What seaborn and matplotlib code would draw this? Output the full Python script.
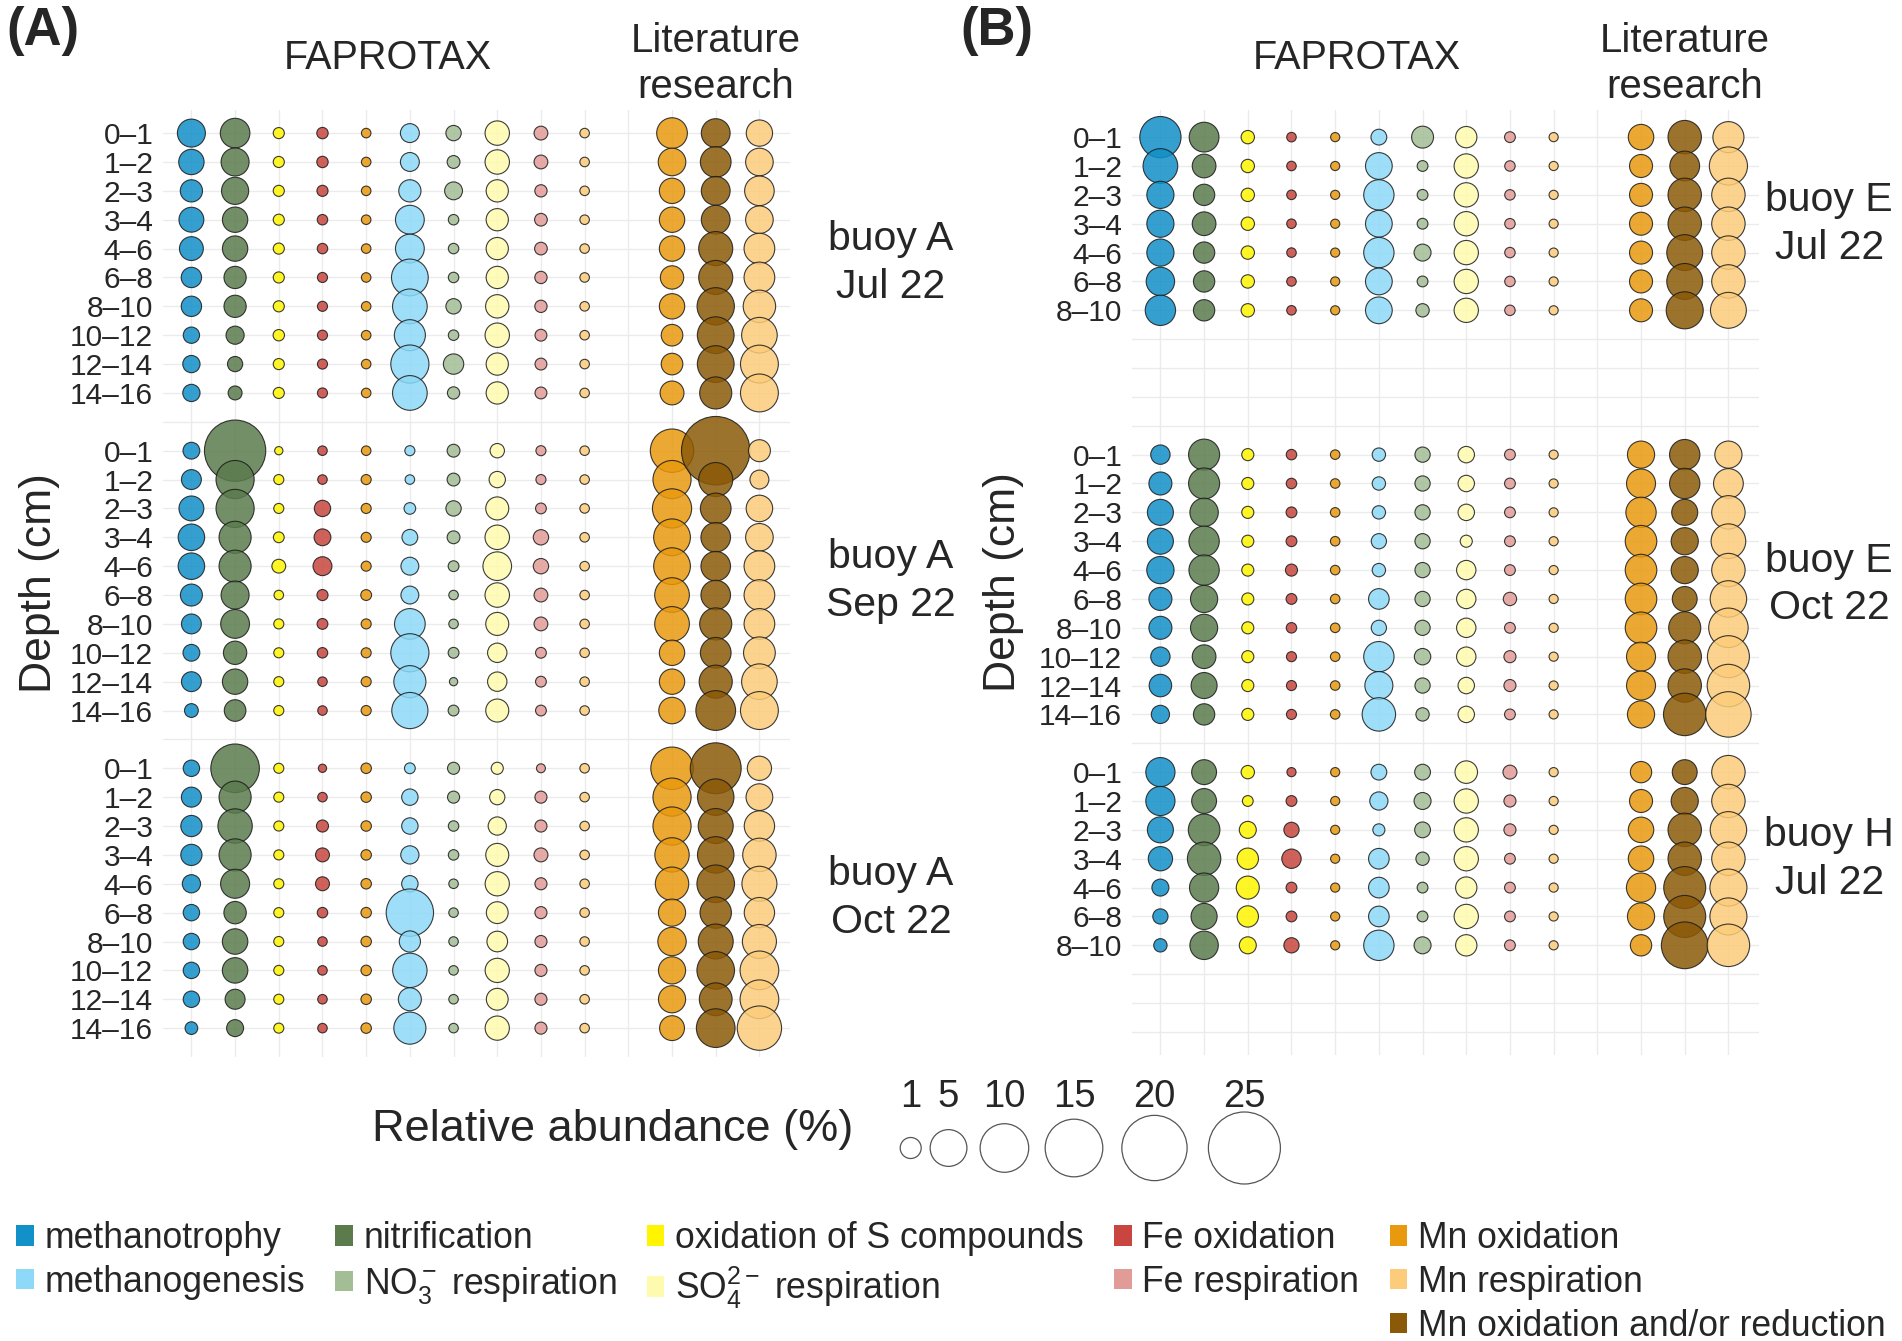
import numpy as np
import pandas as pd
import seaborn as sns
import matplotlib.pyplot as plt
from matplotlib.patches import Patch
from matplotlib.transforms import blended_transform_factory

sns.set_theme(style="white")
plt.rcParams["font.family"] = ["Liberation Sans", "DejaVu Sans"]
plt.rcParams["mathtext.fontset"] = "custom"
plt.rcParams["mathtext.rm"] = "Liberation Sans"
plt.rcParams["mathtext.it"] = "Liberation Sans:italic"
plt.rcParams["mathtext.bf"] = "Liberation Sans:bold"

# depth layers (cm)
depths = ["0–1", "1–2", "2–3", "3–4", "4–6", "6–8", "8–10", "10–12", "12–14", "14–16"]

# column order on the x axis (slot 10 stays empty between FAPROTAX and literature)
columns = ["methanotrophy", "nitrification", "S_ox", "Fe_ox", "Mn_ox_F",
           "methanogenesis", "NO3_resp", "SO4_resp", "Fe_resp", "Mn_resp_F",
           "lit_Mn_ox", "lit_Mn_oxred", "lit_Mn_resp"]
col_pos = [0, 1, 2, 3, 4, 5, 6, 7, 8, 9, 11, 12, 13]
col_func = {"methanotrophy": "methanotrophy", "nitrification": "nitrification",
            "S_ox": "oxidation of S compounds", "Fe_ox": "Fe oxidation",
            "Mn_ox_F": "Mn oxidation", "methanogenesis": "methanogenesis",
            "NO3_resp": "NO3 respiration", "SO4_resp": "SO4 respiration",
            "Fe_resp": "Fe respiration", "Mn_resp_F": "Mn respiration",
            "lit_Mn_ox": "Mn oxidation", "lit_Mn_oxred": "Mn oxidation and/or reduction",
            "lit_Mn_resp": "Mn respiration"}

palette = {"methanotrophy": "#1290C8", "methanogenesis": "#8DD9F7",
           "nitrification": "#5B7B4D", "NO3 respiration": "#A3BD95",
           "oxidation of S compounds": "#FFF500", "SO4 respiration": "#FFFBAE",
           "Fe oxidation": "#C8463F", "Fe respiration": "#E29C98",
           "Mn oxidation": "#E8990E", "Mn respiration": "#FCCC7A",
           "Mn oxidation and/or reduction": "#8B5A08"}

# relative abundance (%) per facet
buoyA_jul = {
    "methanotrophy": [2.4, 1.8, 1.2, 1.7, 1.5, 0.9, 0.9, 0.4, 0.5, 0.5],
    "nitrification": [2.8, 2.4, 2.2, 1.8, 1.8, 1.2, 1.2, 0.6, 0.3, 0.2],
    "S_ox": [0.05, 0.05, 0.05, 0.05, 0.05, 0.05, 0.05, 0.06, 0.05, 0.05],
    "Fe_ox": [0.06, 0.06, 0.05, 0.03, 0.03, 0.02, 0.02, 0.02, 0.02, 0.02],
    "Mn_ox_F": [0.01] * 10,
    "methanogenesis": [0.7, 0.7, 1.2, 2.6, 2.6, 5.0, 4.3, 3.2, 5.5, 4.3],
    "NO3_resp": [0.31, 0.13, 0.57, 0.03, 0.03, 0.03, 0.31, 0.03, 0.9, 0.1],
    "SO4_resp": [1.6, 1.6, 1.2, 1.2, 1.2, 1.2, 1.4, 1.6, 1.2, 1.2],
    "Fe_resp": [0.19, 0.19, 0.1, 0.12, 0.12, 0.1, 0.1, 0.08, 0.08, 0.08],
    "Mn_resp_F": [0.01] * 10,
    "lit_Mn_ox": [3.1, 2.3, 1.8, 1.8, 1.8, 1.4, 1.8, 1.1, 1.1, 1.5],
    "lit_Mn_oxred": [2.6, 3.1, 2.6, 2.6, 4.1, 4.1, 5.2, 5.0, 5.0, 3.5],
    "lit_Mn_resp": [2.0, 2.3, 2.8, 2.3, 3.1, 3.1, 3.6, 4.6, 5.4, 5.4],
}
buoyA_sep = {
    "methanotrophy": [0.45, 0.83, 1.7, 2.05, 2.05, 1.16, 0.83, 0.45, 0.83, 0.19],
    "nitrification": [17.3, 5.5, 5.5, 3.5, 3.5, 2.4, 2.6, 1.4, 1.8, 1.1],
    "S_ox": [0.0, 0.02, 0.02, 0.04, 0.19, 0.01, 0.02, 0.02, 0.02, 0.02],
    "Fe_ox": [0.01, 0.01, 0.4, 0.45, 0.7, 0.05, 0.04, 0.03, 0.01, 0.01],
    "Mn_ox_F": [0.01, 0.02, 0.02, 0.02, 0.02, 0.04, 0.02, 0.02, 0.02, 0.02],
    "methanogenesis": [0.02, 0.01, 0.07, 0.35, 0.57, 0.57, 3.1, 5.5, 3.5, 4.8],
    "NO3_resp": [0.13, 0.13, 0.31, 0.13, 0.04, 0.01, 0.01, 0.04, 0.0, 0.04],
    "SO4_resp": [0.23, 0.4, 1.34, 1.62, 2.55, 1.62, 1.34, 0.76, 0.76, 1.34],
    "Fe_resp": [0.02, 0.02, 0.04, 0.31, 0.31, 0.19, 0.19, 0.04, 0.04, 0.04],
    "Mn_resp_F": [0.01] * 10,
    "lit_Mn_ox": [7.6, 5.5, 5.9, 5.0, 5.0, 4.3, 4.3, 1.8, 1.8, 2.05],
    "lit_Mn_oxred": [22.3, 4.1, 3.1, 2.8, 2.8, 2.8, 3.5, 3.1, 3.8, 6.1],
    "lit_Mn_resp": [1.16, 0.7, 2.05, 2.3, 3.1, 3.1, 3.1, 3.4, 4.6, 5.4],
}
buoyA_oct = {
    "methanotrophy": [0.41, 0.85, 1.03, 1.03, 0.61, 0.41, 0.41, 0.41, 0.41, 0.12],
    "nitrification": [10.0, 3.5, 4.2, 3.5, 2.65, 1.23, 1.83, 1.83, 0.85, 0.47],
    "S_ox": [0.02] * 10,
    "Fe_ox": [0.0, 0.01, 0.09, 0.2, 0.2, 0.03, 0.01, 0.01, 0.01, 0.01],
    "Mn_ox_F": [0.03] * 10,
    "methanogenesis": [0.04, 0.41, 0.41, 0.61, 0.41, 9.4, 1.03, 4.2, 1.34, 3.5],
    "NO3_resp": [0.09, 0.09, 0.03, 0.03, 0.01, 0.01, 0.01, 0.01, 0.01, 0.01],
    "SO4_resp": [0.09, 0.3, 0.61, 1.34, 1.57, 1.13, 0.94, 1.57, 1.13, 1.57],
    "Fe_resp": [0.003, 0.09, 0.09, 0.2, 0.09, 0.09, 0.09, 0.09, 0.09, 0.09],
    "Mn_resp_F": [0.01] * 10,
    "lit_Mn_ox": [7.2, 5.5, 5.5, 4.2, 3.9, 2.2, 2.5, 2.2, 2.2, 1.7],
    "lit_Mn_oxred": [11.2, 4.9, 4.4, 4.9, 5.3, 3.3, 4.4, 5.3, 3.7, 5.7],
    "lit_Mn_resp": [1.57, 2.1, 3.0, 3.9, 4.4, 3.0, 4.1, 5.7, 5.7, 8.0],
}
buoyE_jul = {
    "methanotrophy": [6.7, 4.3, 2.2, 2.2, 2.2, 2.5, 3.0],
    "nitrification": [2.85, 1.47, 1.05, 1.47, 1.05, 1.05, 1.05],
    "S_ox": [0.16] * 7,
    "Fe_ox": [0.01] * 7,
    "Mn_ox_F": [0.005] * 7,
    "methanogenesis": [0.35, 2.1, 3.0, 2.1, 3.0, 2.1, 2.1],
    "NO3_resp": [1.15, 0.04, 0.04, 0.04, 0.47, 0.04, 0.16],
    "SO4_resp": [1.05, 1.58, 1.58, 1.58, 1.58, 1.58, 1.58],
    "Fe_resp": [0.04, 0.03, 0.03, 0.03, 0.03, 0.03, 0.03],
    "Mn_resp_F": [0.005] * 7,
    "lit_Mn_ox": [1.83, 1.34, 1.34, 1.34, 1.34, 1.34, 1.34],
    "lit_Mn_oxred": [3.9, 2.85, 3.9, 3.9, 4.7, 4.7, 5.1],
    "lit_Mn_resp": [3.2, 5.5, 3.9, 3.9, 3.9, 3.9, 4.7],
}
buoyE_oct = {
    "methanotrophy": [0.76, 1.34, 1.94, 1.94, 2.23, 1.34, 1.34, 0.76, 1.25, 0.61],
    "nitrification": [3.2, 3.2, 2.5, 3.0, 3.0, 2.2, 2.2, 1.47, 1.94, 1.05],
    "S_ox": [0.09] * 10,
    "Fe_ox": [0.03, 0.03, 0.04, 0.04, 0.09, 0.04, 0.03, 0.02, 0.02, 0.02],
    "Mn_ox_F": [0.01] * 10,
    "methanogenesis": [0.16, 0.16, 0.16, 0.3, 0.16, 0.94, 0.3, 3.0, 2.4, 3.9],
    "NO3_resp": [0.3, 0.3, 0.3, 0.3, 0.3, 0.3, 0.3, 0.41, 0.3, 0.16],
    "SO4_resp": [0.41, 0.41, 0.41, 0.09, 0.76, 0.76, 0.76, 0.76, 0.41, 0.41],
    "Fe_resp": [0.04, 0.04, 0.04, 0.04, 0.04, 0.16, 0.04, 0.09, 0.09, 0.04],
    "Mn_resp_F": [0.005] * 10,
    "lit_Mn_ox": [2.2, 2.65, 3.0, 3.35, 3.35, 3.35, 3.35, 2.65, 2.65, 2.2],
    "lit_Mn_oxred": [3.0, 3.0, 1.94, 2.2, 2.2, 1.7, 3.5, 3.9, 3.9, 7.2],
    "lit_Mn_resp": [2.2, 2.85, 3.9, 4.3, 3.9, 4.9, 6.0, 7.0, 7.2, 8.5],
}
buoyH_jul = {
    "methanotrophy": [2.7, 2.7, 1.94, 1.58, 0.47, 0.3, 0.16],
    "nitrification": [1.7, 1.7, 3.35, 3.9, 2.7, 1.96, 2.5],
    "S_ox": [0.16, 0.04, 0.47, 1.05, 1.34, 1.05, 0.47],
    "Fe_ox": [0.005, 0.04, 0.3, 0.76, 0.04, 0.04, 0.3],
    "Mn_ox_F": [0.005] * 7,
    "methanogenesis": [0.35, 0.61, 0.09, 0.94, 0.94, 0.94, 3.0],
    "NO3_resp": [0.35, 0.47, 0.35, 0.16, 0.04, 0.04, 0.47],
    "SO4_resp": [1.25, 1.58, 1.58, 1.58, 1.05, 1.58, 1.05],
    "Fe_resp": [0.2, 0.09, 0.09, 0.04, 0.04, 0.04, 0.04],
    "Mn_resp_F": [0.005] * 7,
    "lit_Mn_ox": [1.05, 1.34, 1.83, 1.83, 2.7, 2.2, 1.05],
    "lit_Mn_oxred": [1.7, 2.2, 3.9, 3.9, 7.0, 7.0, 9.1],
    "lit_Mn_resp": [3.9, 3.9, 4.9, 3.9, 5.1, 5.1, 7.2],
}

panels = {
    "A": [("buoy A", "Jul 22", buoyA_jul), ("buoy A", "Sep 22", buoyA_sep), ("buoy A", "Oct 22", buoyA_oct)],
    "B": [("buoy E", "Jul 22", buoyE_jul), ("buoy E", "Oct 22", buoyE_oct), ("buoy H", "Jul 22", buoyH_jul)],
}
size_breaks = [1, 5, 10, 15, 20, 25]

# long table, each facet takes 11 row slots on the y axis
rows = []
for panel, facets in panels.items():
    for fi, (buoy, month, values) in enumerate(facets):
        for col, xpos in zip(columns, col_pos):
            for ri, v in enumerate(values[col]):
                rows.append({"panel": panel, "slot": fi * 11 + ri, "depth": depths[ri],
                             "x": xpos, "func": col_func[col], "abund": v})
df = pd.DataFrame(rows)


def diam_px(v):
    # ggplot-like area palette: diameter grows with sqrt of abundance
    return 8.25 + 12.75 * np.sqrt(v)


def area_pt2(v):
    return (diam_px(v) * 0.72) ** 2


size_lut = {v: area_pt2(v) for v in df["abund"].unique()}

W, H = 1902, 1341
fig = plt.figure(figsize=(W / 100, H / 100), dpi=100)
axA = fig.add_axes([163 / W, 1 - 1057 / H, 627 / W, 947 / H])
axB = fig.add_axes([1132 / W, 1 - 1055 / H, 627 / W, 945 / H])

settings = {
    "A": dict(ax=axA, ylim=(32.0, -0.8), lab_x=-0.165, strip_x=1.161, letter_x=6),
    "B": dict(ax=axB, ylim=(31.8, -0.94), lab_x=-0.172, strip_x=1.112, letter_x=960),
}

for panel, facets in panels.items():
    st = settings[panel]
    ax = st["ax"]
    d = df[df["panel"] == panel]
    sns.scatterplot(data=d, x="x", y="slot", hue="func", palette=palette,
                    size="abund", sizes=size_lut, legend=False, alpha=0.85,
                    edgecolor="#1a1a1a", linewidth=0.8, ax=ax, zorder=3)
    ax.set_xlim(-0.65, 13.7)
    ax.set_ylim(*st["ylim"])
    ax.set_xticks(range(14))
    ax.set_yticks(range(32))
    ticklabels = [""] * 32
    for fi, (buoy, month, values) in enumerate(facets):
        n = len(values["methanotrophy"])
        for ri in range(n):
            ticklabels[fi * 11 + ri] = depths[ri]
    ax.set_yticklabels(ticklabels)
    ax.tick_params(axis="x", labelbottom=False, length=0)
    ax.tick_params(axis="y", length=0, labelsize=21.5, pad=7)
    ax.grid(True, color="#EBEBEB", linewidth=1.0)
    ax.set_axisbelow(True)
    for s in ax.spines.values():
        s.set_visible(False)
    ax.set_xlabel("")
    ax.set_ylabel("Depth (cm)", fontsize=32)
    ax.yaxis.set_label_coords(st["lab_x"], 0.5)

    strip_tr = blended_transform_factory(ax.transAxes, ax.transData)
    for fi, (buoy, month, values) in enumerate(facets):
        n = len(values["methanotrophy"])
        ax.text(st["strip_x"], fi * 11 + (n - 1) / 2, f"{buoy}\n{month}", transform=strip_tr,
                ha="center", va="center", fontsize=29.5, linespacing=1.33)

    head_tr = blended_transform_factory(ax.transData, fig.transFigure)
    ax.text(4.5, 1 - 58 / H, "FAPROTAX", transform=head_tr, ha="center", va="center", fontsize=28.5)
    ax.text(12, 1 - 64 / H, "Literature\nresearch", transform=head_tr, ha="center", va="center",
            fontsize=29, linespacing=1.25)
    fig.text(st["letter_x"] / W, 1 - 6 / H, f"({panel})", ha="left", va="top",
             fontsize=38, fontweight="bold")

# size legend
axS = fig.add_axes([870 / W, 1 - 1210 / H, 420 / W, 145 / H])
axS.set_xlim(0, 420)
axS.set_ylim(145, 0)
axS.axis("off")
dia = diam_px(np.array(size_breaks, dtype=float))
centers = 40.7 + np.concatenate([[0], np.cumsum(1.31 * (dia[:-1] + dia[1:]) / 2)])
axS.scatter(centers, [83] * len(size_breaks), s=area_pt2(np.array(size_breaks, dtype=float)),
            facecolor="none", edgecolor="#555555", linewidth=0.9)
for cx, b in zip(centers, size_breaks):
    axS.text(cx, 42, str(b), ha="center", va="baseline", fontsize=27.5)
axS.text(-17, 65, "Relative abundance (%)", ha="right", va="center", fontsize=32.5, clip_on=False)

# colour legend
legend_order = ["methanotrophy", "methanogenesis", None,
                "nitrification", "NO3 respiration", None,
                "oxidation of S compounds", "SO4 respiration", None,
                "Fe oxidation", "Fe respiration", None,
                "Mn oxidation", "Mn respiration", "Mn oxidation and/or reduction"]
label_text = {"NO3 respiration": r"NO$_3^-$ respiration",
              "SO4 respiration": r"SO$_4^{2-}$ respiration"}
handles, labels = [], []
for key in legend_order:
    if key is None:
        handles.append(Patch(facecolor="none", edgecolor="none"))
        labels.append("")
    else:
        handles.append(Patch(facecolor=palette[key], edgecolor="none"))
        labels.append(label_text.get(key, key))
fig.legend(handles, labels, ncol=5, loc="upper left", bbox_to_anchor=(16 / W, 1 - 1221 / H),
           frameon=False, fontsize=25.6, handlelength=0.5, handleheight=0.5, handletextpad=0.3,
           columnspacing=0.85, labelspacing=0.25, borderpad=0, borderaxespad=0)

fig.savefig("out.png", dpi=100)
